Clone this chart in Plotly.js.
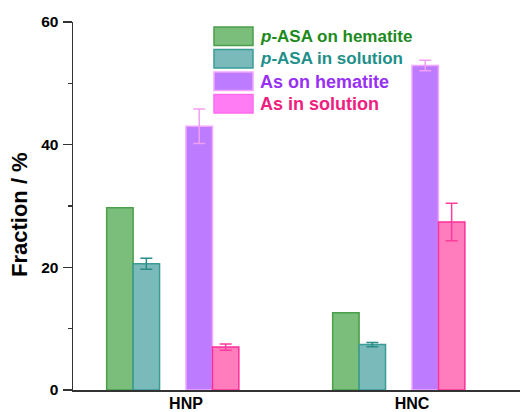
<!DOCTYPE html>
<html>
<head>
<meta charset="utf-8">
<script src="https://cdn.plot.ly/plotly-3.0.1.min.js"></script>
<style>html,body{margin:0;padding:0;background:#fff;}#chart{width:520px;height:412px;}</style>
</head>
<body>
<div id="chart"></div>
<script>
// ---- data ----
const categories = ["HNP", "HNC"];
const seriesNames = ["<i>p</i>-ASA on hematite", "<i>p</i>-ASA in solution", "As on hematite", "As in solution"];
const pASAonHematite = [29.7, 12.6];
const pASAonHematiteErr = [0, 0];
const pASAinSolution = [20.6, 7.4];
const pASAinSolutionErr = [0.9, 0.35];
const AsOnHematite = [43.0, 52.9];
const AsOnHematiteErr = [2.8, 0.85];
const AsInSolution = [7.0, 27.4];
const AsInSolutionErr = [0.5, 3.05];
const yTickVals = [0, 20, 40, 60];
const yTickText = ["0", "20", "40", "60"];
const yMinorTickVals = [10, 30, 50];

// ---- styles ----
const FONT = "Liberation Sans, Arial, sans-serif";
const fills = ["#7bbd7b", "#7bbaba", "#bd7bff", "#ff7cbd"];
const borders = ["#4a9f4a", "#3a9c96", "#f2a6ff", "#ff2e9a"];
const errColors = ["#4a9f4a", "#2a8c88", "#f0a0f0", "#ff3c9c"];
const legendFills = ["#7bbd7b", "#7bbaba", "#bd7bff", "#ff7cf5"];
const legendBorders = ["#4a9f4a", "#3a9c96", "#f4a6ff", "#ff6cf0"];
const textColors = ["#1d8a1d", "#1e8f8a", "#9830f5", "#f0207f"];
const legendFontSizes = [17, 17, 18, 18];
const w = 0.117;
const offsets = [-3 * w, -2 * w, 0, w];

const values = [pASAonHematite, pASAinSolution, AsOnHematite, AsInSolution];
const errs = [pASAonHematiteErr, pASAinSolutionErr, AsOnHematiteErr, AsInSolutionErr];

const traces = values.map((v, i) => ({
  type: "bar",
  x: categories,
  y: v,
  width: w,
  offset: offsets[i],
  marker: { color: fills[i], line: { color: borders[i], width: 1.5 } },
  error_y: { type: "data", array: errs[i], visible: errs[i].some(e => e > 0), color: errColors[i], thickness: 1.5, width: 6 },
  showlegend: false,
  hoverinfo: "skip"
}));

// plot area in px: x 73..520, y 22..390
const L = 73, R = 520, T = 22, B = 390;
const px = x => (x - L) / (R - L);
const py = y => (B - y) / (B - T);

const shapes = [];
const annotations = [];
for (let i = 0; i < 4; i++) {
  const top = 27 + i * 22.5;
  shapes.push({ type: "rect", xref: "paper", yref: "paper", x0: px(214), x1: px(253), y0: py(top), y1: py(top + 18.5),
    fillcolor: legendFills[i], line: { color: legendBorders[i], width: 1.5 } });
  annotations.push({ xref: "paper", yref: "paper", x: px(258), y: py(top + 9.5), xanchor: "left", yanchor: "middle",
    text: "<b>" + seriesNames[i] + "</b>", showarrow: false, font: { family: FONT, size: legendFontSizes[i], color: textColors[i] } });
}
annotations.push({ xref: "paper", yref: "paper", x: px(20), y: py(215), xanchor: "center", yanchor: "middle",
  text: "<b>Fraction / %</b>", textangle: -90, showarrow: false, font: { family: FONT, size: 22, color: "#000" } });

const layout = {
  width: 520, height: 412,
  margin: { l: L, r: 520 - R, t: T, b: 412 - B, pad: 0 },
  paper_bgcolor: "#fff", plot_bgcolor: "#fff",
  barmode: "overlay",
  showlegend: false,
  font: { family: FONT, color: "#000" },
  xaxis: {
    type: "category", range: [-0.5, 1.478], showline: true, linecolor: "#333", linewidth: 1.5,
    ticks: "", showgrid: false, zeroline: false, fixedrange: true, ticklabelstandoff: -2,
    tickfont: { family: FONT, size: 16, color: "#000", weight: "bold" }
  },
  yaxis: {
    range: [0, 60], showline: true, linecolor: "#333", linewidth: 1.5, showgrid: false, zeroline: false,
    ticks: "outside", ticklen: 9, tickwidth: 1.5, tickcolor: "#333",
    tickvals: yTickVals, ticktext: yTickText, ticklabelstandoff: 1,
    minor: { tickvals: yMinorTickVals, ticks: "outside", ticklen: 4, tickwidth: 1.5, tickcolor: "#333" },
    tickfont: { family: FONT, size: 15.5, color: "#000", weight: "bold" }
  },
  shapes: shapes,
  annotations: annotations
};

Plotly.newPlot("chart", traces, layout, { displayModeBar: false, staticPlot: true });
</script>
</body>
</html>
